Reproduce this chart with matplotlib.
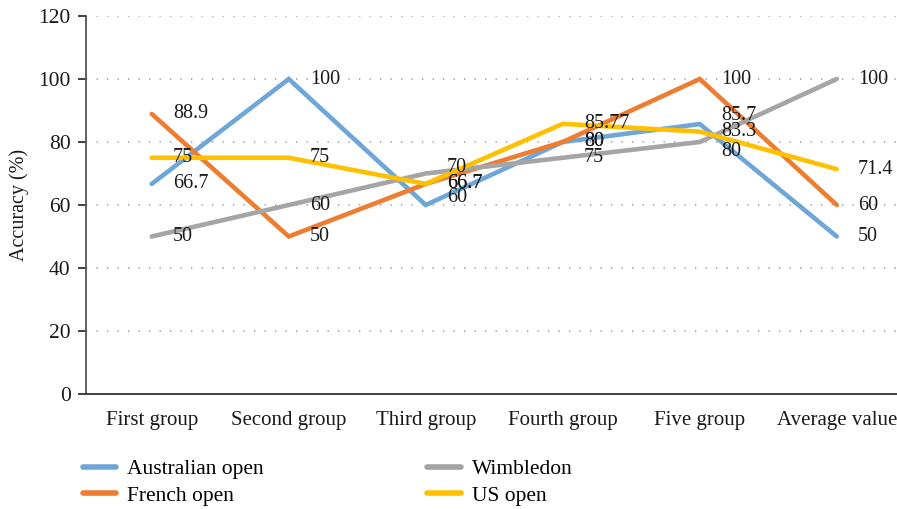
import matplotlib
matplotlib.use("Agg")
import matplotlib.pyplot as plt
from matplotlib.lines import Line2D

categories = ["First group", "Second group", "Third group", "Fourth group", "Five group", "Average value"]
australian = [66.7, 100, 60, 80, 85.7, 50]
french = [88.9, 50, 66.7, 80, 100, 60]
wimbledon = [50, 60, 70, 75, 80, 100]
us_open = [75, 75, 66.7, 85.77, 83.3, 71.4]
yticks = [0, 20, 40, 60, 80, 100, 120]

series = [
    ("Australian open", australian, "#6fa6d8"),
    ("French open", french, "#ed7d31"),
    ("Wimbledon", wimbledon, "#a5a5a5"),
    ("US open", us_open, "#ffc000"),
]

# vertical nudges (pixels) for a few labels to avoid overlaps: (series index, point index) -> dy
nudge = {(2, 2): 6, (0, 2): 7, (0, 4): 9, (2, 4): -9}

plt.rcParams['font.family'] = ['Liberation Serif', 'DejaVu Serif']
fig = plt.figure(figsize=(8.97, 5.09), dpi=100)
ax = fig.add_axes([86/897, 115/509, 822/897, 378/509])

x = list(range(len(categories)))
for si, (name, vals, col) in enumerate(series):
    ax.plot(x, vals, color=col, lw=3.3, solid_capstyle='round', solid_joinstyle='miter', zorder=3 + si)

for si, (name, vals, col) in enumerate(series):
    for i, v in enumerate(vals):
        dy = nudge.get((si, i), 0)
        ax.annotate(f"{v:g}", (i, v), xytext=(21 * 0.72, dy * 0.72), textcoords='offset points',
                    ha='left', va='center', fontsize=14.5, color='#1a1a1a', zorder=10)

ax.set_xlim(-0.48, 5.52)
ax.set_ylim(0, 120)
ax.set_yticks(yticks)
ax.set_xticks(x)
ax.set_xticklabels(categories)
for y in yticks[1:]:
    ax.axhline(y, color='#a0a0a0', lw=1.2, ls=(0, (0.8, 5.5)), zorder=1)

for s in ['top', 'right']:
    ax.spines[s].set_visible(False)
ax.spines['left'].set_color('#555555')
ax.spines['bottom'].set_color('#333333')
ax.spines['left'].set_linewidth(1.3)
ax.spines['bottom'].set_linewidth(1.3)
ax.tick_params(axis='y', direction='out', length=6, width=1.3, color='#333333', labelsize=15.5, pad=5, labelcolor='#1a1a1a')
ax.tick_params(axis='x', length=0, labelsize=15, pad=12, labelcolor='#1a1a1a')
ax.set_ylabel("Accuracy (%)", fontsize=14.5, color='#1a1a1a')
ax.yaxis.set_label_coords((29 - 86) / 822, 0.5)

handles = [Line2D([0], [0], color=c, lw=4, solid_capstyle='round') for _, _, c in series]
labels = [n for n, _, _ in series]
fig.legend(handles, labels, loc='upper left', bbox_to_anchor=(83/897, 1 - 459/509), ncol=2,
           frameon=False, fontsize=15.5, handlelength=1.55, handletextpad=0.5, columnspacing=7.6,
           labelspacing=0.3, borderaxespad=0, borderpad=0)

fig.savefig("out.png", dpi=100)
